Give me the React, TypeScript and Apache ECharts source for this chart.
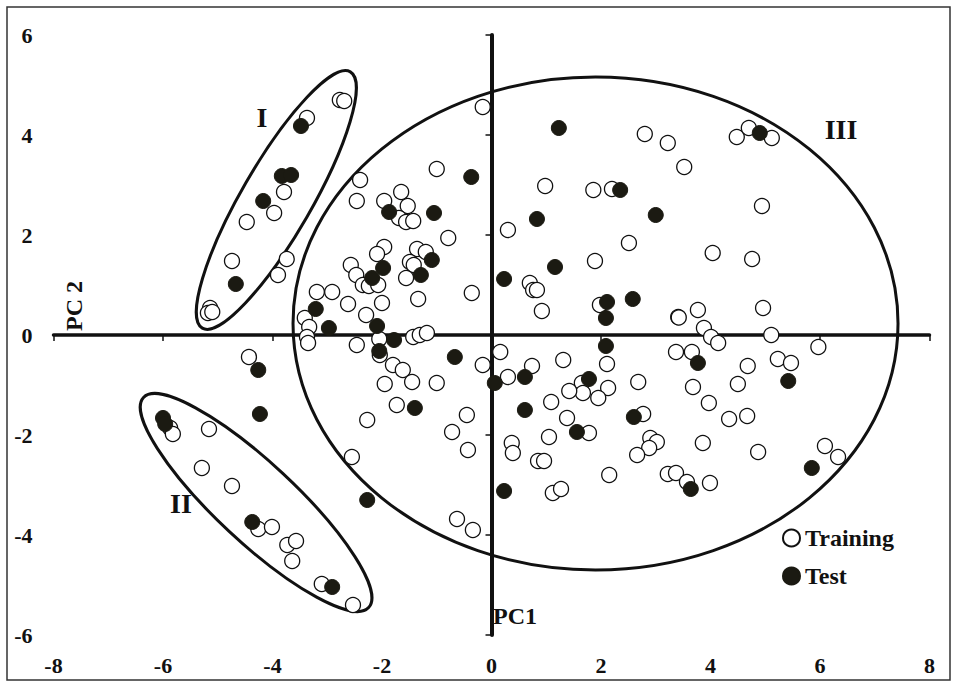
import React, { useEffect, useRef } from "react";
import * as echarts from "echarts";

const X_TICKS_MIN = -8;
const X_TICKS_MAX = 8;
const Y_TICKS_MIN = -6;
const Y_TICKS_MAX = 6;
const TICK_STEP = 2;

const seriesNames = ["Training", "Test"];

const trainingPoints: [number, number][] = [
  [-3.37, 4.34], [-2.77, 4.7], [-2.69, 4.68], [-3.79, 2.86], [-3.97, 2.44], [-4.47, 2.26],
  [-4.74, 1.48], [-5.14, 0.54], [-5.18, 0.44], [-5.1, 0.46], [-3.74, 1.52], [-3.9, 1.2],
  [-5.87, -1.86], [-5.82, -1.98], [-5.16, -1.88], [-5.29, -2.66], [-4.74, -3.02], [-4.26, -3.88],
  [-4.01, -3.84], [-3.73, -4.2], [-3.57, -4.12], [-3.64, -4.52], [-3.1, -4.98], [-2.53, -5.4],
  [-4.43, -0.44],
  [-2.4, 3.1], [-2.46, 2.68], [-1.0, 3.32], [-1.65, 2.86], [-1.96, 2.68], [-1.53, 2.58],
  [-1.69, 2.34], [-1.56, 2.26], [-1.43, 2.28], [-0.79, 1.94], [-0.16, 4.56], [-1.96, 1.76],
  [-2.09, 1.62], [-1.36, 1.72], [-1.2, 1.66], [-1.49, 1.46], [-1.42, 1.4], [-2.57, 1.4],
  [-2.47, 1.2], [-1.56, 1.14], [-2.35, 1.0], [-2.24, 0.98], [-2.07, 1.0], [-1.34, 0.72],
  [-0.36, 0.84], [-3.19, 0.86], [-2.91, 0.86], [-2.62, 0.62], [-2.0, 0.64], [-2.29, 0.4],
  [-3.41, 0.34], [-3.33, 0.16], [-3.37, -0.04], [-3.35, -0.16], [-2.46, -0.2], [-2.05, -0.08],
  [-2.04, -0.4], [-1.43, -0.04], [-1.31, 0.0], [-1.18, 0.04], [0.16, -0.34], [-1.8, -0.6],
  [-1.62, -0.7], [-1.45, -0.94], [-1.95, -0.98], [-1.0, -0.96], [-0.16, -0.6], [-1.73, -1.4],
  [-2.27, -1.7], [-0.45, -1.6], [-0.72, -1.94], [-0.43, -2.3], [-2.55, -2.44], [-0.63, -3.68],
  [-0.34, -3.9],
  [0.3, 2.1], [0.98, 2.98], [1.86, 2.9], [2.2, 2.92], [2.8, 4.02], [3.22, 3.84], [3.52, 3.36],
  [4.48, 3.96], [4.7, 4.14], [5.12, 3.94], [4.94, 2.58], [2.51, 1.84], [4.04, 1.64], [4.76, 1.52],
  [1.89, 1.48], [0.7, 1.04], [0.76, 0.9], [0.83, 0.9], [0.92, 0.48], [1.98, 0.6], [3.41, 0.36],
  [3.42, 0.35], [3.77, 0.5], [4.96, 0.54], [3.88, 0.14], [4.01, -0.04], [4.14, -0.16], [5.11, 0.0],
  [5.97, -0.24], [3.37, -0.34], [3.66, -0.34], [4.68, -0.62], [5.23, -0.48], [5.47, -0.56],
  [4.5, -0.98], [2.68, -0.94], [3.68, -1.04], [3.97, -1.36], [4.34, -1.68], [4.67, -1.62],
  [2.77, -1.58], [2.9, -2.06], [3.02, -2.14], [2.88, -2.26], [2.66, -2.4], [3.86, -2.16],
  [4.87, -2.34], [6.09, -2.22], [6.33, -2.44], [3.22, -2.78], [3.37, -2.76], [3.57, -2.94],
  [3.99, -2.96], [2.15, -2.8], [2.11, -0.58], [2.13, -1.06], [1.95, -1.26], [1.65, -0.96],
  [1.67, -1.16], [1.42, -1.12], [1.31, -0.5], [0.74, -0.62], [0.3, -0.84], [1.09, -1.34],
  [1.38, -1.66], [1.78, -1.96], [1.05, -2.04], [0.37, -2.16], [0.39, -2.36], [0.85, -2.52],
  [0.96, -2.52], [1.12, -3.16], [1.27, -3.08],
];

const testPoints: [number, number][] = [
  [-3.48, 4.18], [-3.83, 3.18], [-3.66, 3.2], [-4.17, 2.68], [-4.67, 1.02], [-4.26, -0.7],
  [-4.23, -1.58], [-6.0, -1.66], [-5.96, -1.78], [-4.37, -3.74], [-2.91, -5.04], [-2.27, -3.3],
  [-0.37, 3.16], [-1.87, 2.46], [-1.05, 2.44], [-1.09, 1.5], [-1.29, 1.2], [-1.98, 1.34],
  [-2.18, 1.14], [-3.21, 0.52], [-2.97, 0.14], [-2.09, 0.18], [-1.78, -0.1], [-2.05, -0.32],
  [-0.67, -0.44], [-1.4, -1.46], [0.23, 1.12], [0.23, -3.12], [0.06, -0.96], [0.61, -0.84],
  [0.61, -1.5], [1.23, 4.14], [0.83, 2.32], [1.16, 1.36], [2.35, 2.9], [3.0, 2.4], [4.9, 4.04],
  [2.11, 0.66], [2.09, 0.34], [2.09, -0.22], [2.58, 0.72], [1.78, -0.88], [1.56, -1.94],
  [2.6, -1.64], [3.77, -0.56], [5.42, -0.92], [3.64, -3.08], [5.85, -2.66],
];

// Group outlines (annotation ellipses): centre in data units
const groupCentres: [number, number][] = [[-3.93, 2.7], [-4.3, -3.35], [1.9, 0.23]];
const groupLabels = ["I", "II", "III"];
const groupShapes = [
  { rx: 148, ry: 35, rot: 60 },
  { rx: 154, ry: 39.5, rot: -43 },
  { rx: 302.5, ry: 246.5, rot: 0 },
];

const FONT = "'Liberation Serif', 'Times New Roman', serif";
const INK = "#111";
const TEST_FILL = "#1b1a12";

export default function App() {
  const ref = useRef<HTMLDivElement>(null);

  useEffect(() => {
    if (!ref.current) return;
    const chart = echarts.init(ref.current, undefined, { renderer: "svg" });

    const labelStyle = { fontFamily: FONT, fontWeight: "bold" as const, fontSize: 22, color: INK };

    const option: any = {
      animation: false,
      backgroundColor: "#fff",
      grid: { left: 53.5, right: 27.5, top: 35, bottom: 53, containLabel: false },
      xAxis: [
        {
          type: "value", min: X_TICKS_MIN, max: X_TICKS_MAX, interval: TICK_STEP, position: "bottom",
          axisLine: { show: false, onZero: false }, axisTick: { show: false }, splitLine: { show: false },
          axisLabel: { ...labelStyle, margin: 19 },
        },
        {
          type: "value", min: X_TICKS_MIN, max: X_TICKS_MAX, interval: TICK_STEP, position: "bottom",
          axisLine: { show: true, onZero: true, onZeroAxisIndex: 0, lineStyle: { color: INK, width: 3.5 } },
          axisTick: { show: true, length: 6, lineStyle: { color: INK, width: 1.5 } },
          axisLabel: { show: false }, splitLine: { show: false },
        },
      ],
      yAxis: [
        {
          type: "value", min: Y_TICKS_MIN, max: Y_TICKS_MAX, interval: TICK_STEP, position: "left",
          axisLine: { show: false, onZero: false }, axisTick: { show: false }, splitLine: { show: false },
          axisLabel: { ...labelStyle, margin: 21 },
        },
        {
          type: "value", min: Y_TICKS_MIN, max: Y_TICKS_MAX, interval: TICK_STEP, position: "left",
          axisLine: { show: true, onZero: true, onZeroAxisIndex: 0, lineStyle: { color: INK, width: 4 } },
          axisTick: { show: true, length: 6, lineStyle: { color: INK, width: 1.5 } },
          axisLabel: { show: false }, splitLine: { show: false },
        },
      ],
      legend: {
        data: seriesNames,
        orient: "vertical",
        left: 777,
        top: 521,
        itemWidth: 17,
        itemHeight: 17,
        itemGap: 14,
        textStyle: { fontFamily: FONT, fontWeight: "bold", fontSize: 24, color: INK },
      },
      series: [
        {
          type: "custom",
          name: "groups",
          xAxisIndex: 0,
          yAxisIndex: 0,
          silent: true,
          clip: false,
          z: 1,
          data: groupCentres,
          renderItem: (params: any, api: any) => {
            const c = api.coord([api.value(0), api.value(1)]);
            const s = groupShapes[params.dataIndex];
            return {
              type: "ellipse",
              x: c[0],
              y: c[1],
              rotation: (s.rot * Math.PI) / 180,
              shape: { cx: 0, cy: 0, rx: s.rx, ry: s.ry },
              style: { fill: "none", stroke: INK, lineWidth: 3 },
            };
          },
        },
        {
          type: "scatter",
          name: seriesNames[0],
          xAxisIndex: 0,
          yAxisIndex: 0,
          symbol: "circle",
          symbolSize: 15,
          z: 3,
          itemStyle: { color: "#fff", borderColor: INK, borderWidth: 1.3, opacity: 1 },
          data: trainingPoints,
        },
        {
          type: "scatter",
          name: seriesNames[1],
          xAxisIndex: 0,
          yAxisIndex: 0,
          symbol: "circle",
          symbolSize: 15,
          z: 4,
          itemStyle: { color: TEST_FILL, borderColor: TEST_FILL, borderWidth: 1, opacity: 1 },
          data: testPoints,
        },
      ],
      graphic: [
        {
          type: "rect",
          silent: true,
          shape: { x: 7, y: 7, width: 943, height: 673 },
          style: { fill: "none", stroke: "#333", lineWidth: 1.5 },
          z: 0,
        },
        {
          type: "text",
          x: 74,
          y: 306,
          rotation: Math.PI / 2,
          style: { text: "PC 2", font: `bold 24px ${FONT}`, fill: INK, textAlign: "center", textVerticalAlign: "middle" },
        },
        {
          type: "text",
          x: 493,
          y: 616,
          style: { text: "PC1", font: `bold 24px ${FONT}`, fill: INK, textAlign: "left", textVerticalAlign: "middle" },
        },
        {
          type: "text",
          x: 262,
          y: 117,
          style: { text: groupLabels[0], font: `bold 28px ${FONT}`, fill: INK, textAlign: "center", textVerticalAlign: "middle" },
        },
        {
          type: "text",
          x: 181,
          y: 503,
          style: { text: groupLabels[1], font: `bold 28px ${FONT}`, fill: INK, textAlign: "center", textVerticalAlign: "middle" },
        },
        {
          type: "text",
          x: 841,
          y: 129,
          style: { text: groupLabels[2], font: `bold 28px ${FONT}`, fill: INK, textAlign: "center", textVerticalAlign: "middle" },
        },
      ],
    };

    chart.setOption(option);
    return () => chart.dispose();
  }, []);

  return (
    <div
      ref={ref}
      style={{ position: "absolute", left: 0, top: 0, width: 957, height: 688, background: "#fff" }}
    />
  );
}
